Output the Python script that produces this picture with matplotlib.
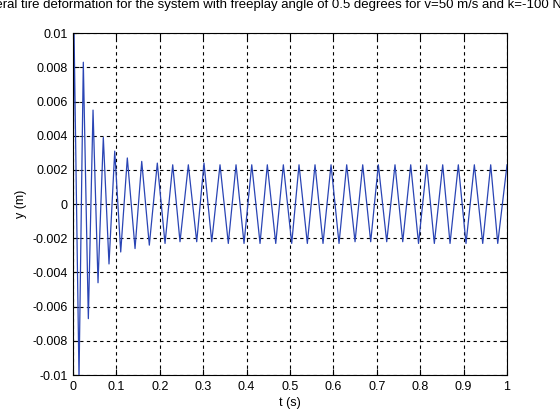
import matplotlib
matplotlib.use("Agg")
import matplotlib.pyplot as plt
from matplotlib.ticker import FixedLocator, FixedFormatter

# Extrema of the response (time in s, deformation in m)
t_pts = [0.0, 0.0023, 0.0138, 0.0237, 0.0353, 0.0461, 0.0576, 0.0698, 0.0829,
         0.0961, 0.1099, 0.1251, 0.1429, 0.1583, 0.1758, 0.1942, 0.2120,
         0.2297, 0.2465, 0.2657, 0.2850, 0.3018, 0.3196, 0.3387, 0.3578,
         0.3756, 0.3940, 0.4118, 0.4309, 0.4477, 0.4671, 0.4846, 0.5039,
         0.5207, 0.5399, 0.5576, 0.5760, 0.5945, 0.6129, 0.6306, 0.6498,
         0.6675, 0.6859, 0.7035, 0.7228, 0.7419, 0.7597, 0.7781, 0.7961,
         0.8150, 0.8325, 0.8518, 0.8687, 0.8878, 0.9055, 0.9247, 0.9440,
         0.9624, 0.9786, 1.0]
y_pts = [0.0, 0.0102, -0.0102, 0.0083, -0.0067, 0.0055, -0.0046, 0.0039, -0.0035,
         0.0031, -0.0028, 0.0027, -0.0026, 0.0025, -0.0024, 0.0024, -0.0023,
         0.0023, -0.0022, 0.0023, -0.0022, 0.0024, -0.0022, 0.0023, -0.0023,
         0.0023, -0.0023, 0.0023, -0.0023, 0.0023, -0.0023, 0.0023, -0.0023,
         0.0023, -0.0023, 0.0023, -0.0023, 0.0023, -0.0023, 0.0023, -0.0022,
         0.0023, -0.0022, 0.0023, -0.0022, 0.0023, -0.0022, 0.0023, -0.0023,
         0.0023, -0.0023, 0.0023, -0.0023, 0.0023, -0.0023, 0.0023, -0.0023,
         0.0023, -0.0023, 0.0023]

x_ticks = [0, 0.1, 0.2, 0.3, 0.4, 0.5, 0.6, 0.7, 0.8, 0.9, 1.0]
x_labels = ["0", "0.1", "0.2", "0.3", "0.4", "0.5", "0.6", "0.7", "0.8", "0.9", "1"]
y_ticks = [-0.01, -0.008, -0.006, -0.004, -0.002, 0, 0.002, 0.004, 0.006, 0.008, 0.01]
y_labels = ["-0.01", "-0.008", "-0.006", "-0.004", "-0.002", "0",
            "0.002", "0.004", "0.006", "0.008", "0.01"]

title = ("Lateral tire deformation for the system with freeplay angle of 0.5 degrees "
         "for v=50 m/s and k=-100 Nm/rad")

plt.rcParams['font.family'] = ['Liberation Sans', 'DejaVu Sans']

fig = plt.figure(figsize=(5.6, 4.2), dpi=100)
ax = fig.add_axes([0.1304, 0.107, 0.775, 0.814])

ax.plot(t_pts, y_pts, color='#2a45b5', linewidth=0.9)

ax.set_xlim(0, 1)
ax.set_ylim(-0.01, 0.01)
ax.xaxis.set_major_locator(FixedLocator(x_ticks))
ax.xaxis.set_major_formatter(FixedFormatter(x_labels))
ax.yaxis.set_major_locator(FixedLocator(y_ticks))
ax.yaxis.set_major_formatter(FixedFormatter(y_labels))

ax.grid(True, color='black', linestyle=(0, (3, 3)), linewidth=0.8)
ax.tick_params(direction='in', top=True, right=True, length=4, labelsize=9,
               width=0.8, pad=4)
for s in ax.spines.values():
    s.set_linewidth(0.8)

ax.set_xlabel("t (s)", fontsize=9, labelpad=3)
ax.set_ylabel("y (m)", fontsize=9, labelpad=4)
ax.set_title(title, fontsize=9.5, pad=18, x=0.492)

fig.savefig("out.png", dpi=100)
